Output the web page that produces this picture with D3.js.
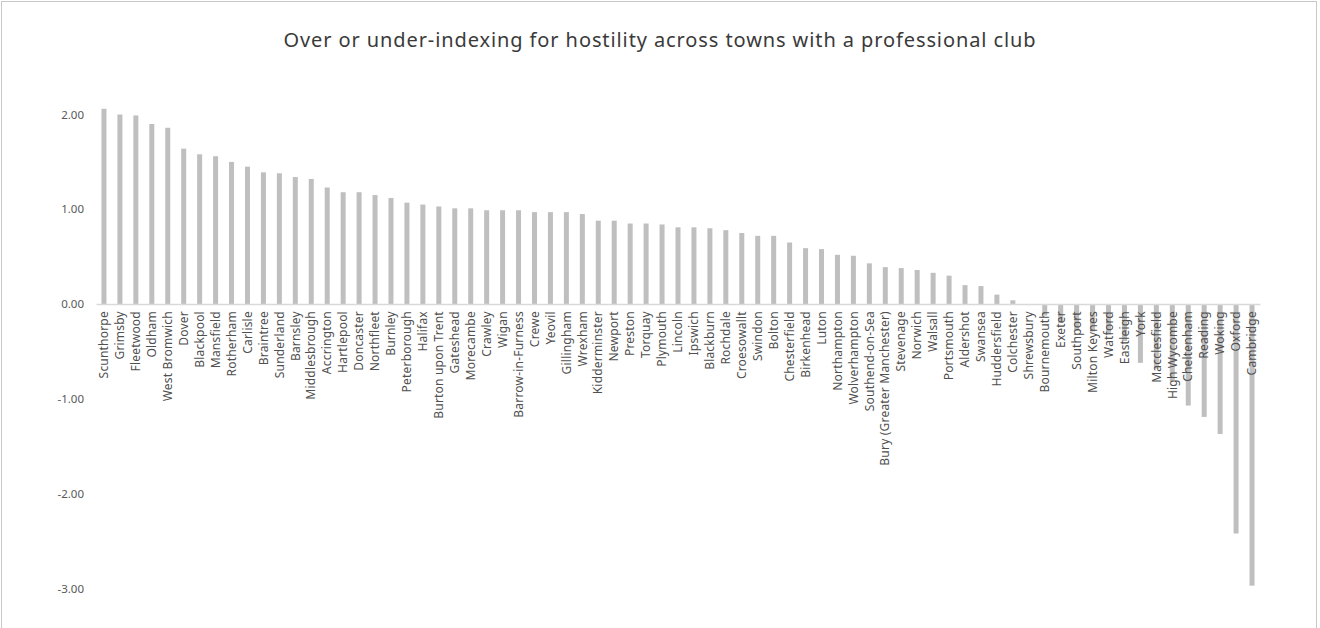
<!DOCTYPE html>
<html>
<head>
<meta charset="utf-8">
<script src="https://cdn.jsdelivr.net/npm/d3@7"></script>
<style>
  body { margin: 0; background: #fff; }
  text { font-family: "Noto Sans", "Open Sans", sans-serif; }
</style>
</head>
<body>
<div id="chart"></div>
<script>
// towns, sorted as in the source chart
const towns = ["Scunthorpe", "Grimsby", "Fleetwood", "Oldham", "West Bromwich", "Dover", "Blackpool",
  "Mansfield", "Rotherham", "Carlisle", "Braintree", "Sunderland", "Barnsley", "Middlesbrough",
  "Accrington", "Hartlepool", "Doncaster", "Northfleet", "Burnley", "Peterborough", "Halifax",
  "Burton upon Trent", "Gateshead", "Morecambe", "Crawley", "Wigan", "Barrow-in-Furness", "Crewe",
  "Yeovil", "Gillingham", "Wrexham", "Kidderminster", "Newport", "Preston", "Torquay", "Plymouth",
  "Lincoln", "Ipswich", "Blackburn", "Rochdale", "Croesowallt", "Swindon", "Bolton", "Chesterfield",
  "Birkenhead", "Luton", "Northampton", "Wolverhampton", "Southend-on-Sea", "Bury (Greater Manchester)",
  "Stevenage", "Norwich", "Walsall", "Portsmouth", "Aldershot", "Swansea", "Huddersfield", "Colchester",
  "Shrewsbury", "Bournemouth", "Exeter", "Southport", "Milton Keynes", "Watford", "Eastleigh", "York",
  "Macclesfield", "High Wycombe", "Cheltenham", "Reading", "Woking", "Oxford", "Cambridge"];

const hostility = [2.06, 2.00, 1.99, 1.90, 1.86, 1.64, 1.58,
  1.56, 1.50, 1.45, 1.39, 1.38, 1.34, 1.32,
  1.23, 1.18, 1.18, 1.15, 1.12, 1.07, 1.05,
  1.03, 1.01, 1.01, 0.99, 0.99, 0.99, 0.97,
  0.97, 0.97, 0.95, 0.88, 0.88, 0.85, 0.85, 0.84,
  0.81, 0.81, 0.80, 0.78, 0.75, 0.72, 0.72, 0.65,
  0.59, 0.58, 0.52, 0.51, 0.43, 0.39,
  0.38, 0.36, 0.33, 0.30, 0.20, 0.19, 0.10, 0.04,
  -0.01, -0.12, -0.20, -0.28, -0.29, -0.32, -0.39, -0.62,
  -0.68, -0.80, -1.07, -1.19, -1.37, -2.42, -2.97];

const yTicks = [2, 1, 0, -1, -2, -3];

const title = "Over or under-indexing for hostility across towns with a professional club";

var width = 1320, height = 628;

var svg = d3.select("#chart")
  .append("svg")
    .attr("width", width)
    .attr("height", height);

// outer frame
svg.append("rect")
  .attr("x", 1.5).attr("y", 1.5)
  .attr("width", 1315).attr("height", 660)
  .attr("fill", "none")
  .attr("stroke", "#c9c9c9");

svg.append("text")
  .attr("x", 660).attr("y", 47)
  .attr("text-anchor", "middle")
  .style("font-size", "20px")
  .style("letter-spacing", "0.9px")
  .style("fill", "#3a3a3a")
  .text(title);

var x = d3.scaleBand()
  .domain(towns)
  .range([96, 1260]);

var y = d3.scaleLinear()
  .domain([-3, 2])
  .range([588.5, 114.5]);

// y labels (no axis line)
var yAxis = svg.append("g")
  .attr("transform", "translate(84,0)")
  .call(d3.axisLeft(y).tickValues(yTicks).tickSize(0).tickPadding(0)
    .tickFormat(function (d) { return d.toFixed(2); }));
yAxis.select(".domain").remove();
yAxis.selectAll("text")
  .style("font-size", "11.5px")
  .style("fill", "#595959")
  .style("font-family", "'Noto Sans', sans-serif");

// bars
var barW = 5;
svg.append("g")
  .selectAll("rect")
  .data(towns)
  .enter()
  .append("rect")
    .attr("x", function (d) { return x(d) + x.bandwidth() / 2 - barW / 2; })
    .attr("y", function (d, i) { return y(Math.max(0, hostility[i])); })
    .attr("width", barW)
    .attr("height", function (d, i) { return Math.abs(y(hostility[i]) - y(0)); })
    .style("fill", "#bfbfbf");

// zero line with category labels
var xAxis = svg.append("g")
  .attr("transform", "translate(0," + y(0) + ")")
  .call(d3.axisBottom(x).tickSize(0).tickPadding(0));
xAxis.select(".domain")
  .attr("stroke", "#d9d9d9")
  .attr("stroke-width", 1.5);
xAxis.selectAll("text")
  .attr("transform", "rotate(-90)")
  .attr("x", -7)
  .attr("y", 0)
  .attr("dy", "0.35em")
  .attr("text-anchor", "end")
  .style("font-size", "12px")
  .style("letter-spacing", "0.2px")
  .style("fill", "#505050")
  .style("font-family", "'Noto Sans', sans-serif");
</script>
</body>
</html>
